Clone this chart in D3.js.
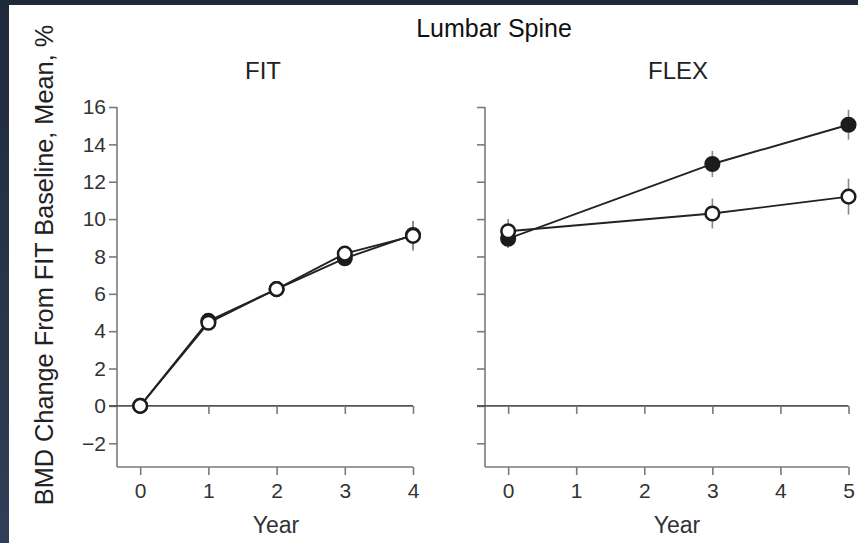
<!DOCTYPE html>
<html>
<head>
<meta charset="utf-8">
<script src="https://cdn.jsdelivr.net/npm/d3@7"></script>
<style>
  html, body { margin: 0; padding: 0; background: #26324a; }
  svg { display: block; }
  text { font-family: "Liberation Sans", Arial, Helvetica, sans-serif; }
</style>
</head>
<body>
<svg id="chart" width="858" height="543"></svg>
<script>
// Lumbar spine BMD change from FIT baseline (mean, %), FIT and FLEX phases
const fitYears = [0, 1, 2, 3, 4];
const fitFilled = [0, 4.55, 6.25, 7.9, 9.15];
const fitFilledErr = [0, 0.3, 0.3, 0.35, 0.75];
const fitOpen = [0, 4.45, 6.25, 8.15, 9.1];
const fitOpenErr = [0, 0.3, 0.3, 0.35, 0.8];

const flexYears = [0, 3, 5];
const flexFilled = [8.95, 12.95, 15.05];
const flexFilledErr = [0.5, 0.7, 0.8];
const flexOpen = [9.35, 10.3, 11.2];
const flexOpenErr = [0.65, 0.8, 0.96];

const yTicks = [-2, 0, 2, 4, 6, 8, 10, 12, 14, 16];
const fitXTicks = [0, 1, 2, 3, 4];
const flexXTicks = [0, 1, 2, 3, 4, 5];

const svg = d3.select("#chart");
const W = 858, H = 543;

// frame: dark edge on the left and top, white page
const grad = svg.append("defs").append("linearGradient")
  .attr("id", "edge").attr("x1", 0).attr("y1", 0).attr("x2", 0).attr("y2", 1);
grad.append("stop").attr("offset", "0%").attr("stop-color", "#1f293a");
grad.append("stop").attr("offset", "100%").attr("stop-color", "#2f3f57");
svg.append("rect").attr("width", W).attr("height", H).attr("fill", "url(#edge)");
svg.append("rect").attr("x", 9).attr("y", 5).attr("width", W - 9).attr("height", H - 5).attr("fill", "#fff");

const yDomain = [-3.27, 16];
const yRange = [467, 107];
const axisColor = "#7a7a7a";
const lineColor = "#222";

function panel(opts) {
  const x = d3.scaleLinear().domain(opts.xDomain).range(opts.xRange);
  const y = d3.scaleLinear().domain(yDomain).range(yRange);
  const g = svg.append("g");

  // left axis
  const ya = g.append("g").attr("transform", `translate(${opts.xRange[0]},0)`)
    .call(d3.axisLeft(y).tickValues(yTicks).tickSize(8).tickPadding(3)
      .tickFormat(opts.showY ? (d => d < 0 ? "\u2212" + Math.abs(d) : d) : () => ""));
  ya.select(".domain").attr("d", `M0,${y(16)}V${yRange[0]}`);

  // bottom axis
  const xa = g.append("g").attr("transform", `translate(0,${yRange[0]})`)
    .call(d3.axisBottom(x).tickValues(opts.xTicks).tickSize(8).tickPadding(8).tickFormat(d3.format("d")));
  xa.select(".domain").attr("d", `M${opts.xRange[0]},0H${x(opts.xTicks[opts.xTicks.length - 1])}`);

  [ya, xa].forEach(a => {
    a.attr("font-family", null);
    a.selectAll(".domain").attr("stroke", axisColor).attr("stroke-width", 1.6);
    a.selectAll(".tick line").attr("stroke", axisColor).attr("stroke-width", 1.6);
    a.selectAll(".tick text").attr("fill", "#333").style("font-size", "21px");
  });

  // zero reference line with small year ticks
  const zero = g.append("g").attr("transform", `translate(0,${y(0)})`)
    .call(d3.axisBottom(x).tickValues(opts.xTicks).tickSize(8).tickFormat(() => ""));
  zero.select(".domain").attr("d", `M${opts.xRange[0] - 8},0H${x(opts.xTicks[opts.xTicks.length - 1])}`)
    .attr("stroke", "#555").attr("stroke-width", 1.6);
  zero.selectAll(".tick line").attr("stroke", axisColor).attr("stroke-width", 1.6);

  // panel title and axis title
  g.append("text").attr("x", opts.titleX).attr("y", 79).attr("text-anchor", "middle")
    .attr("fill", "#222").style("font-size", "24px").text(opts.title);
  g.append("text").attr("x", opts.yearX).attr("y", 533).attr("text-anchor", "middle")
    .attr("fill", "#333").style("font-size", "23px").text("Year");

  const line = d3.line().x(d => x(d.t)).y(d => y(d.v));
  const series = [
    { vals: opts.filled, err: opts.filledErr, fill: "#1c1c1c" },
    { vals: opts.open, err: opts.openErr, fill: "#fff" }
  ].map(s => ({ ...s, pts: opts.years.map((t, i) => ({ t, v: s.vals[i], e: s.err[i] })) }));

  // error bars
  series.forEach(s => {
    g.append("g").selectAll("line").data(s.pts.filter(p => p.e > 0)).join("line")
      .attr("x1", p => x(p.t)).attr("x2", p => x(p.t))
      .attr("y1", p => y(p.v - p.e)).attr("y2", p => y(p.v + p.e))
      .attr("stroke", "#8a8a8a").attr("stroke-width", 1.6);
  });
  // connecting lines
  series.forEach(s => {
    g.append("path").datum(s.pts).attr("d", line)
      .attr("fill", "none").attr("stroke", lineColor).attr("stroke-width", 1.9);
  });
  // markers: filled series first, open on top
  series.forEach(s => {
    g.append("g").selectAll("circle").data(s.pts).join("circle")
      .attr("cx", p => x(p.t)).attr("cy", p => y(p.v)).attr("r", 6.8)
      .attr("fill", s.fill).attr("stroke", "#1c1c1c").attr("stroke-width", 2.5);
  });
}

panel({
  title: "FIT", titleX: 263, yearX: 276, showY: true,
  xDomain: [-0.34, 4], xRange: [117, 413], xTicks: fitXTicks,
  years: fitYears, filled: fitFilled, filledErr: fitFilledErr, open: fitOpen, openErr: fitOpenErr
});

panel({
  title: "FLEX", titleX: 678, yearX: 677, showY: false,
  xDomain: [-0.34, 5], xRange: [485, 848.5], xTicks: flexXTicks,
  years: flexYears, filled: flexFilled, filledErr: flexFilledErr, open: flexOpen, openErr: flexOpenErr
});

// overall title and shared y-axis title
svg.append("text").attr("x", 494).attr("y", 37).attr("text-anchor", "middle")
  .attr("fill", "#111").style("font-size", "25px").text("Lumbar Spine");
svg.append("text").attr("transform", "translate(53,265) rotate(-90)").attr("text-anchor", "middle")
  .attr("fill", "#222").style("font-size", "25.3px").text("BMD Change From FIT Baseline, Mean, %");
</script>
</body>
</html>
